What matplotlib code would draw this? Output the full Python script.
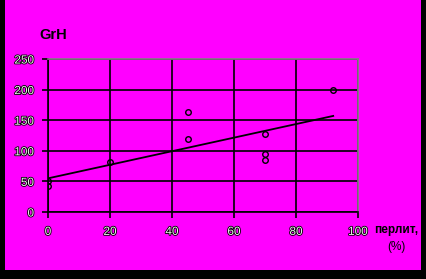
import numpy as np
from matplotlib import pyplot as plt
from matplotlib.patches import Rectangle
import matplotlib.patheffects as pe

# data
pearlite = [0, 0, 20, 45, 45, 70, 70, 70, 92]
hardness = [50, 43, 81, 163, 120, 128, 95, 85, 199]
trend_x = [0, 92]
trend_y = [55, 157]

x_ticks = [0, 20, 40, 60, 80, 100]
y_ticks = [0, 50, 100, 150, 200, 250]

magenta = '#ff00ff'

fig = plt.figure(figsize=(4.26, 2.79), dpi=100, facecolor=magenta)
ax = fig.add_axes([0.1127, 0.2401, 0.7277, 0.5484], facecolor=magenta)

# black frame strips of the original screenshot
for r in [(0, 0, 5 / 426, 1), (0, 0, 1, 9 / 279), (421 / 426, 0, 5 / 426, 1)]:
    fig.patches.append(Rectangle(r[:2], r[2], r[3], transform=fig.transFigure,
                                 facecolor='black', edgecolor='none', zorder=0))

ax.set_xlim(0, 100)
ax.set_ylim(0, 250)
ax.set_xticks(x_ticks)
ax.set_yticks(y_ticks)
ax.grid(True, color='black', lw=1.2)

ax.spines['left'].set_color('black')
ax.spines['bottom'].set_color('black')
ax.spines['top'].set_color('#808080')
ax.spines['right'].set_color('#808080')
for s in ax.spines.values():
    s.set_linewidth(1.2)

ax.tick_params(direction='out', length=4, width=1.2, colors='black', pad=6)
stroke = [pe.withStroke(linewidth=1.2, foreground='black')]
for lab in ax.get_xticklabels() + ax.get_yticklabels():
    lab.set_color('#f0f0f0')
    lab.set_fontsize(8.5)
    lab.set_fontfamily('Liberation Sans')
    lab.set_path_effects(stroke)

ax.plot(trend_x, trend_y, color='black', lw=1.3, zorder=3)
ax.plot(pearlite, hardness, 'o', mfc='none', mec='black', ms=4, mew=1, zorder=4)

fig.text(39 / 426, 1 - 35 / 279, 'GrH', fontsize=10.5, fontweight='bold',
         family='Liberation Sans', va='center')
fig.text(396 / 426, 1 - 230 / 279, 'перлит,', fontsize=8.5, fontweight='bold',
         family='Liberation Sans', ha='center', va='center')
fig.text(396 / 426, 1 - 247 / 279, '(%)', fontsize=8.5,
         family='Liberation Sans', ha='center', va='center')

fig.savefig('out.png', dpi=100, facecolor=magenta)
